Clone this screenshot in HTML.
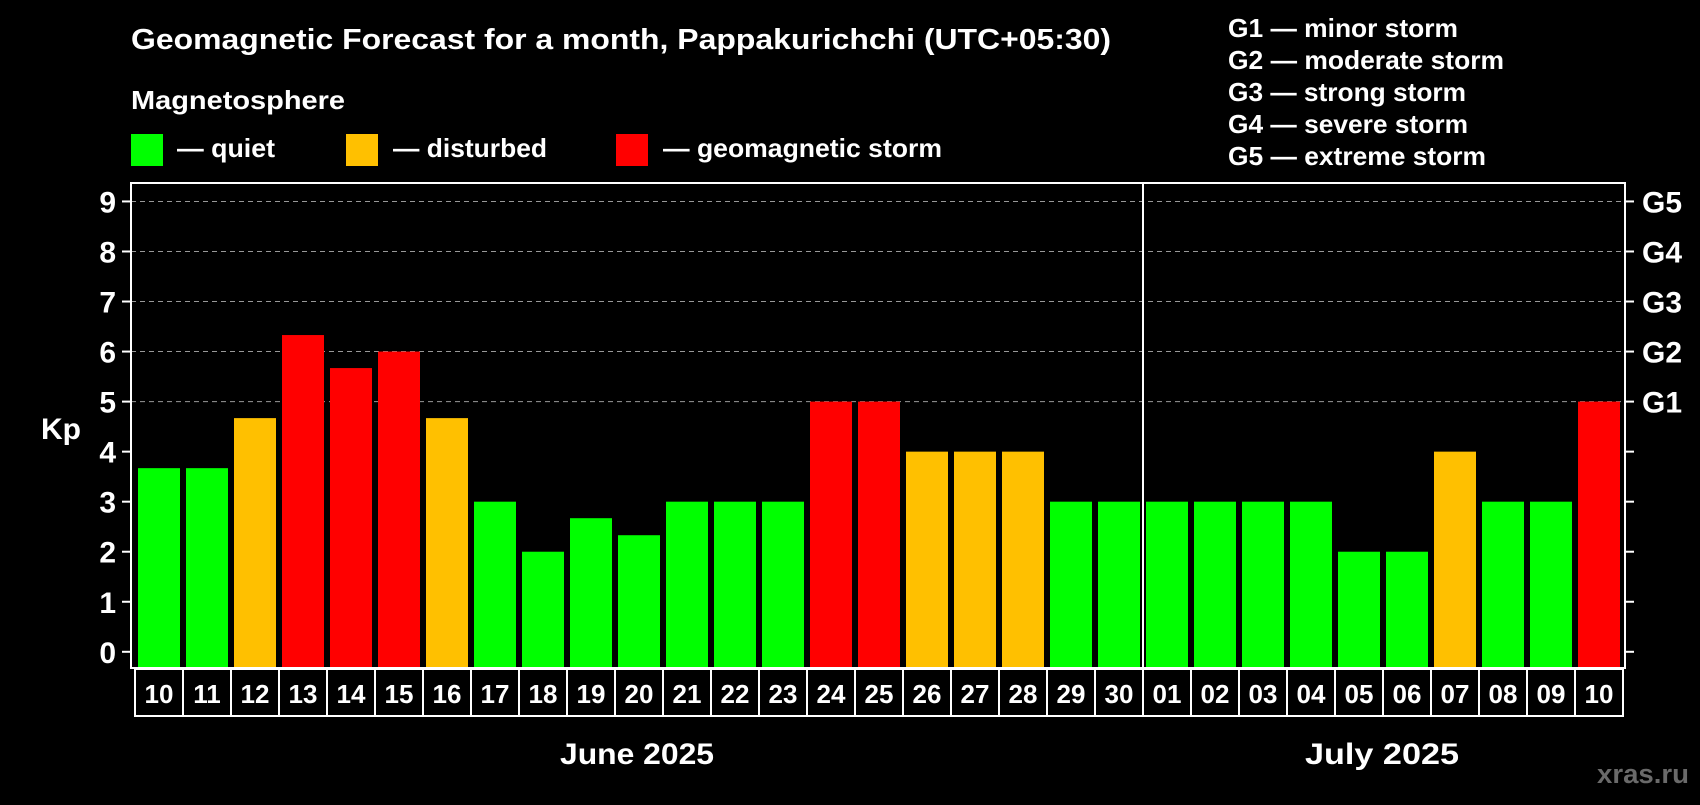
<!DOCTYPE html>
<html><head><meta charset="utf-8"><style>
body{margin:0;background:#000;width:1700px;height:800px;overflow:hidden;font-family:"Liberation Sans",sans-serif;}
svg text{font-family:"Liberation Sans",sans-serif;font-weight:bold;fill:#fff;}
</style></head><body>
<svg width="1700" height="800">
<text x="131" y="49" font-size="29" textLength="980" lengthAdjust="spacingAndGlyphs">Geomagnetic Forecast for a month, Pappakurichchi (UTC+05:30)</text>
<text x="131" y="109" font-size="26" textLength="214" lengthAdjust="spacingAndGlyphs">Magnetosphere</text>
<g>
<rect x="131" y="134" width="32" height="32" fill="#00ff00"/>
<text x="177" y="157" font-size="26" textLength="98" lengthAdjust="spacingAndGlyphs">— quiet</text>
<rect x="346" y="134" width="32" height="32" fill="#ffc000"/>
<text x="393" y="157" font-size="26" textLength="154" lengthAdjust="spacingAndGlyphs">— disturbed</text>
<rect x="616" y="134" width="32" height="32" fill="#ff0000"/>
<text x="663" y="157" font-size="26" textLength="279" lengthAdjust="spacingAndGlyphs">— geomagnetic storm</text>
</g>
<g font-size="26">
<text x="1228" y="37" textLength="230" lengthAdjust="spacingAndGlyphs">G1 — minor storm</text>
<text x="1228" y="69" textLength="276" lengthAdjust="spacingAndGlyphs">G2 — moderate storm</text>
<text x="1228" y="101" textLength="238" lengthAdjust="spacingAndGlyphs">G3 — strong storm</text>
<text x="1228" y="133" textLength="240" lengthAdjust="spacingAndGlyphs">G4 — severe storm</text>
<text x="1228" y="165" textLength="258" lengthAdjust="spacingAndGlyphs">G5 — extreme storm</text>
</g>
<g id="plot"></g>
<text x="637" y="764" font-size="30" text-anchor="middle" textLength="154" lengthAdjust="spacingAndGlyphs">June 2025</text>
<text x="1382" y="764" font-size="30" text-anchor="middle" textLength="154" lengthAdjust="spacingAndGlyphs">July 2025</text>
<text x="1689" y="783" font-size="27" text-anchor="end" textLength="92" lengthAdjust="spacingAndGlyphs" style="fill:#6a6a6a">xras.ru</text>
</svg>
<script>
const days=["10","11","12","13","14","15","16","17","18","19","20","21","22","23","24","25","26","27","28","29","30","01","02","03","04","05","06","07","08","09","10"];
const kpValues=[3.67,3.67,4.67,6.33,5.67,6,4.67,3,2,2.67,2.33,3,3,3,5,5,4,4,4,3,3,3,3,3,3,2,2,4,3,3,5];
const yTicks=[0,1,2,3,4,5,6,7,8,9];
const gLabels=["G1","G2","G3","G4","G5"];
const NS="http://www.w3.org/2000/svg";
const g=document.getElementById('plot');
const L=131,R=1625,T=183,B=668,y0=651.8,unit=50.04;
const y=v=>y0-v*unit;
const pitch=48.0,bx0=138,bw=42;
const x=i=>bx0+i*pitch;
function mk(t,a){const e=document.createElementNS(NS,t);for(const k in a)e.setAttribute(k,a[k]);g.appendChild(e);return e;}
yTicks.forEach(v=>{
 if(v>=5){const l=mk('line',{x1:L,x2:R,y1:y(v),y2:y(v),stroke:'#999','stroke-dasharray':'5,4','stroke-width':1});
 
 }
 const t1=mk('line',{x1:L-9,x2:L,y1:y(v),y2:y(v),stroke:'#fff','stroke-width':2});
 
 
 const t2=mk('line',{x1:R,x2:R+9,y1:y(v),y2:y(v),stroke:'#fff','stroke-width':2});
 
 
 const tx=mk('text',{x:116,y:y(v)+11,'font-size':30,'text-anchor':'end'});tx.textContent=v;
 
 
});
gLabels.forEach((s,i)=>{const t=mk('text',{x:1642,y:y(5+i)+11,'font-size':30});t.textContent=s;
 
 });
const kp=mk('text',{x:41,y:439,'font-size':30});kp.textContent='Kp';


kpValues.forEach((v,i)=>{
 const c=v>=5?'#ff0000':(v>=4?'#ffc000':'#00ff00');
 const r=mk('rect',{x:x(i),y:y(v),width:bw,height:B-y(v),fill:c});
 
 
 const cx=135+i*pitch;
 const cell=mk('rect',{x:cx,y:B+1,width:pitch,height:47,fill:'none',stroke:'#fff','stroke-width':2});
 
 
 const t=mk('text',{x:cx+pitch/2,y:B+35,'font-size':26,'text-anchor':'middle'});t.textContent=days[i];
 
 
});
const box=mk('rect',{x:L,y:T,width:R-L,height:B-T,fill:'none',stroke:'#fff','stroke-width':2});


const dv=days.indexOf('01');
const d=mk('line',{x1:x(dv)-3,x2:x(dv)-3,y1:T,y2:B+48,stroke:'#fff','stroke-width':2});


</script>
</body></html>
